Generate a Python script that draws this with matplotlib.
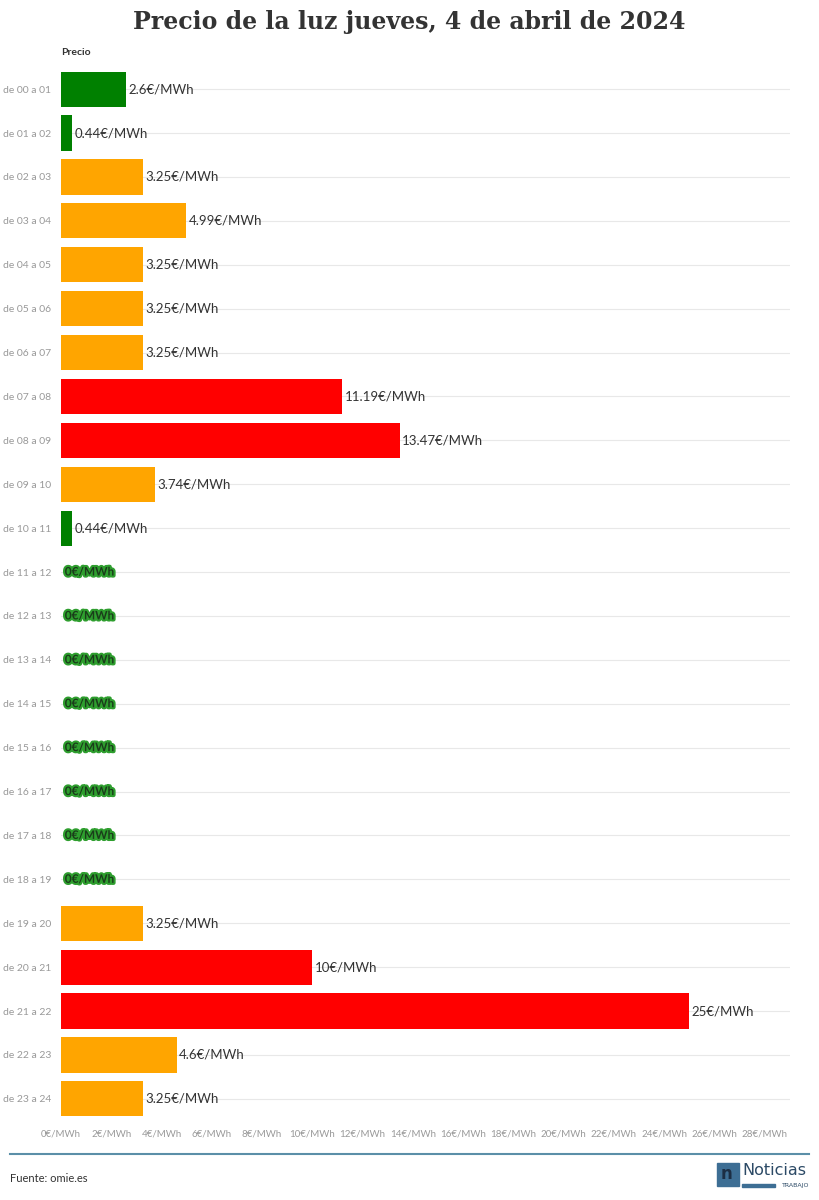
import matplotlib
matplotlib.use("Agg")
import matplotlib.pyplot as plt
import matplotlib.patheffects as pe
from matplotlib.patches import Rectangle

hours = [f"de {h:02d} a {h+1:02d}" for h in range(24)]
prices = [2.6, 0.44, 3.25, 4.99, 3.25, 3.25, 3.25, 11.19, 13.47, 3.74, 0.44,
          0, 0, 0, 0, 0, 0, 0, 0, 3.25, 10, 25, 4.6, 3.25]
labels = ["2.6", "0.44", "3.25", "4.99", "3.25", "3.25", "3.25", "11.19", "13.47", "3.74", "0.44",
          "0", "0", "0", "0", "0", "0", "0", "0", "3.25", "10", "25", "4.6", "3.25"]
ticks = list(range(0, 30, 2))

def color(p):
    if p < 3: return "#008000"
    if p < 10: return "#FFA500"
    return "#FF0000"

fig = plt.figure(figsize=(8.19, 12), dpi=100)
ax = fig.add_axes([0.0745, 0.066, 0.89, 0.878])
y = list(range(24))
ax.barh(y, prices, height=0.8, color=[color(p) for p in prices], zorder=2)
for yi, p, l in zip(y, prices, labels):
    if p == 0:
        ax.text(0.15, yi, f"{l}€/MWh", va="center", ha="left", fontsize=8.5, fontweight="bold",
                color="#1a3d1a", family="Lato",
                path_effects=[pe.withStroke(linewidth=3, foreground="#2e9e2e")], zorder=3)
    else:
        ax.text(p + 0.1, yi, f"{l}€/MWh", va="center", ha="left", fontsize=9.5,
                color="#333333", family="Lato", zorder=3)
ax.set_ylim(23.5, -0.5)
ax.set_xlim(0, 29)
ax.set_yticks(y)
ax.set_yticklabels(hours, fontsize=7.5, color="#999999", family="Lato")
ax.set_xticks(ticks)
ax.set_xticklabels([f"{t}€/MWh" for t in ticks], fontsize=7, color="#999999", family="Lato")
ax.tick_params(length=0, pad=6)
ax.tick_params(axis="y", pad=7)
for s in ax.spines.values():
    s.set_visible(False)
for yi in y:
    ax.axhline(yi, color="#e8e8e8", lw=0.8, zorder=0)

fig.text(0.5, 0.982, "Precio de la luz jueves, 4 de abril de 2024", ha="center", va="center",
         fontsize=17, fontweight="bold", color="#333333", family="DejaVu Serif")
fig.text(0.0745, 0.956, "Precio", ha="left", va="center", fontsize=7.5, fontweight="bold", color="#333333", family="Lato")
fig.add_artist(plt.Line2D([0.012, 0.988], [0.0385, 0.0385], color="#5b8fa8", lw=1.5))
fig.text(0.012, 0.018, "Fuente: omie.es", ha="left", va="center", fontsize=8, color="#333333", family="Lato")
fig.add_artist(Rectangle((0.876, 0.012), 0.026, 0.019, transform=fig.transFigure, color="#3d6e94"))
fig.text(0.880, 0.0215, "n", ha="left", va="center", fontsize=12, fontweight="bold", color="#1c2e44", family="DejaVu Sans")
fig.text(0.906, 0.0245, "Noticias", ha="left", va="center", fontsize=11.5, color="#2c4a66", family="DejaVu Sans")
fig.add_artist(Rectangle((0.906, 0.0105), 0.04, 0.003, transform=fig.transFigure, color="#3d6e94"))
fig.text(0.988, 0.012, "TRABAJO", ha="right", va="center", fontsize=4.5, color="#2c4a66", family="DejaVu Sans")
fig.savefig("out.png", dpi=100, facecolor="white")
